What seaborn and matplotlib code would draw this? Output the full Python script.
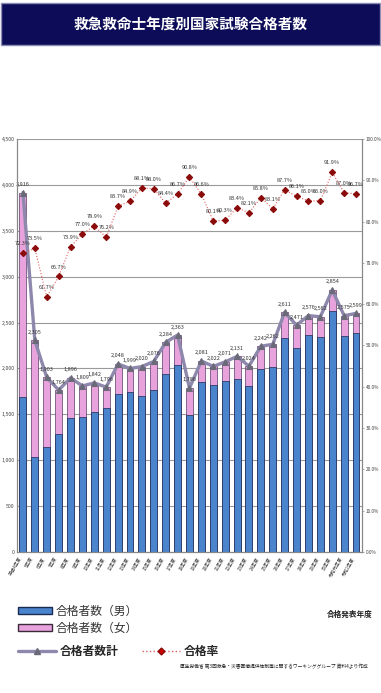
import numpy as np
import pandas as pd
import matplotlib
matplotlib.use('Agg')
import matplotlib.pyplot as plt
import seaborn as sns
from matplotlib.patches import Patch, Rectangle
from matplotlib.lines import Line2D

# data
years = ['平成4年度', '5年度', '6年度', '7年度', '8年度', '9年度', '10年度', '11年度',
         '12年度', '13年度', '14年度', '15年度', '16年度', '17年度', '18年度', '19年度',
         '20年度', '21年度', '22年度', '23年度', '24年度', '25年度', '26年度', '27年度',
         '28年度', '29年度', '30年度', '令和元年度', '令和2年度']
male = [1690, 1040, 1143, 1288, 1455, 1473, 1527, 1564, 1723, 1738, 1702, 1767, 1941, 2032,
        1495, 1847, 1821, 1861, 1890, 1811, 1992, 2014, 2329, 2221, 2369, 2340, 2630, 2355, 2384]
total = [3916, 2305, 1903, 1764, 1896, 1809, 1842, 1796, 2048, 1999, 2020, 2076, 2284, 2363,
         1786, 2081, 2022, 2071, 2131, 2024, 2242, 2262, 2611, 2471, 2576, 2562, 2854, 2575, 2599]
female = [t - m for t, m in zip(total, male)]
rate = [72.3, 73.5, 61.7, 66.7, 73.9, 77.0, 78.9, 76.2, 83.7, 84.9, 88.1, 88.0, 84.4, 86.7,
        90.8, 86.6, 80.1, 80.3, 83.4, 82.1, 85.8, 83.1, 87.7, 86.1, 85.0, 85.0, 91.9, 87.0, 86.7]

df = pd.DataFrame({'year': years, 'male': male, 'female': female, 'total': total,
                   'rate': rate, 'pos': np.arange(len(years))})

sns.set_style('white')
plt.rcParams['font.family'] = ['Noto Sans CJK JP', 'DejaVu Sans']

fig = plt.figure(figsize=(3.81, 6.93), dpi=100)

# title band
fig.patches.append(Rectangle((0.003, 0.935), 0.994, 0.061, transform=fig.transFigure,
                             facecolor='#0c0c58', edgecolor='#8c8cb4', linewidth=1.0, zorder=0))
fig.text(0.5, 0.966, '救急救命士年度別国家試験合格者数', color='white', fontsize=10.5,
         fontweight='bold', ha='center', va='center')

ax = fig.add_axes([0.0446, 0.2035, 0.9054, 0.596])

# stacked bars: total (pink) behind, male (blue) in front
sns.barplot(data=df, x='year', y='total', color='#e8a2dc', edgecolor='#5a3a6a',
            linewidth=0.5, width=0.58, saturation=1, ax=ax)
sns.barplot(data=df, x='year', y='male', color='#4a84cc', edgecolor='#1a2a50',
            linewidth=0.5, width=0.58, saturation=1, ax=ax)

# total line
sns.lineplot(data=df, x='pos', y='total', color='#8d88ac', linewidth=2.4, marker='^',
             markersize=4.5, markerfacecolor='#6a6a78', markeredgecolor='#6a6a78',
             sort=False, ax=ax, zorder=5)
for p, v in zip(df['pos'], total):
    ax.annotate(f'{v:,}', (p, v), xytext=(0, 4), textcoords='offset points',
                ha='center', va='bottom', fontsize=4.0, color='#333333', zorder=6)

ax.set_xlim(-0.5, len(years) - 0.5)
ax.set_ylim(0, 4500)
ax.set_yticks(range(0, 4501, 500))
ax.set_yticklabels([f'{v:,}' for v in range(0, 4501, 500)], fontsize=3.8, color='#444444')
ax.yaxis.grid(True, color='#9a9a9a', linewidth=0.8)
ax.set_axisbelow(True)
ax.set_xlabel('')
ax.set_ylabel('')
ax.tick_params(axis='y', length=0, pad=1.5)
ax.tick_params(axis='x', length=2, width=0.5, color='#888888', pad=1)
ax.set_xticks(range(len(years)))
ax.set_xticklabels(years, rotation=60, ha='right', fontsize=3.3, color='#333333')
for s in ['left', 'right', 'bottom']:
    ax.spines[s].set_color('#888888')
    ax.spines[s].set_linewidth(0.8)
ax.spines['top'].set_visible(False)

# pass rate on the right axis
ax2 = ax.twinx()
sns.lineplot(data=df, x='pos', y='rate', color='#e06060', linewidth=0.8, linestyle=':',
             marker='D', markersize=3.2, markerfacecolor='#8b0a0a', markeredgecolor='#8b0a0a',
             sort=False, ax=ax2, zorder=6)
for p, r in zip(df['pos'], rate):
    ax2.annotate(f'{r:.1f}%', (p, r), xytext=(0, 5), textcoords='offset points',
                 ha='center', va='bottom', fontsize=4.0, color='#333333')
ax2.set_ylim(0, 100)
ax2.set_yticks(range(0, 101, 10))
ax2.set_yticklabels([f'{v:.1f}%' for v in range(0, 101, 10)], fontsize=3.4, color='#444444')
ax2.tick_params(axis='y', length=1.5, width=0.5, color='#888888', pad=1)
ax2.set_ylabel('')
for s in ['left', 'right', 'bottom']:
    ax2.spines[s].set_color('#888888')
    ax2.spines[s].set_linewidth(0.8)
ax2.spines['top'].set_visible(False)
ax2.set_xlim(-0.5, len(years) - 0.5)

fig.text(0.917, 0.113, '合格発表年度', fontsize=5.5, fontweight='bold', ha='center',
         va='center', color='#222222')

# legends
bar_handles = [Patch(facecolor='#4a84cc', edgecolor='#1a2a50', linewidth=1.0),
               Patch(facecolor='#e8a2dc', edgecolor='#3a2a3a', linewidth=1.0)]
leg1 = fig.legend(bar_handles, ['合格者数（男）', '合格者数（女）'], loc='upper left',
                  bbox_to_anchor=(0.02, 0.143), frameon=False, fontsize=8.5,
                  handlelength=2.9, handleheight=0.6, labelspacing=0.35, handletextpad=0.3,
                  labelcolor='#333333')
line_handles = [Line2D([], [], color='#8d88ac', linewidth=2.4, marker='^', markersize=5,
                       markerfacecolor='#6a6a78', markeredgecolor='#6a6a78'),
                Line2D([], [], color='#e06060', linewidth=1.0, linestyle=':', marker='D',
                       markersize=3.5, markerfacecolor='#cc0000', markeredgecolor='#8b0a0a')]
leg2 = fig.legend(line_handles, ['合格者数計', '合格率'], loc='upper left',
                  bbox_to_anchor=(0.02, 0.085), frameon=False, ncol=2,
                  handlelength=3.2, handletextpad=0.3, columnspacing=2.0,
                  prop={'weight': 'bold', 'size': 8.5})

fig.text(0.965, 0.038, '厚生労働省 第3回救急・災害医療提供体制等に関するワーキンググループ 資料4より作成',
         fontsize=3.4, ha='right', va='center', color='#222222')

fig.savefig('out.png', dpi=100)
